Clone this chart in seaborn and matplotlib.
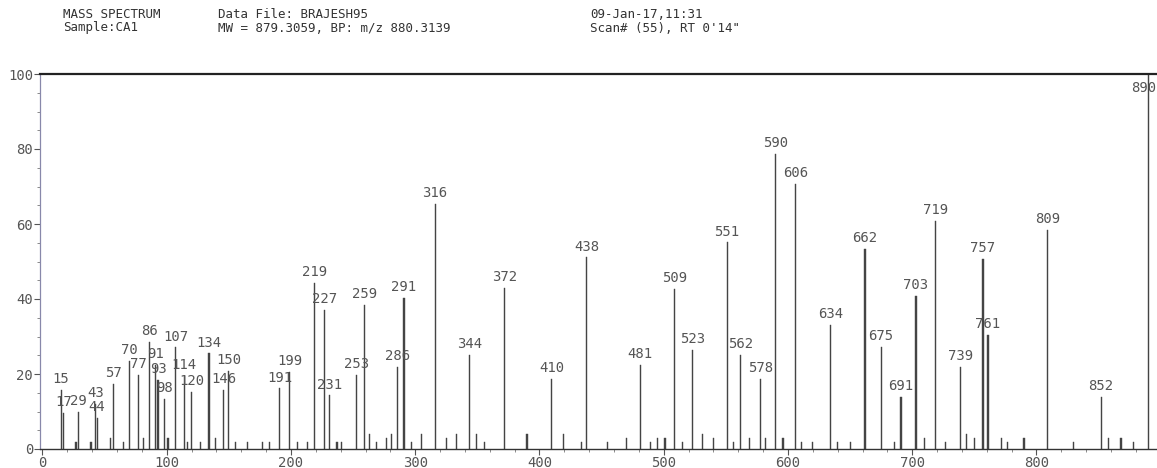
import matplotlib
matplotlib.use("Agg")
import matplotlib.pyplot as plt
import seaborn as sns
import pandas as pd
from matplotlib.ticker import MultipleLocator

# ---- data ----
labeled_mz = [15, 17, 29, 43, 44, 57, 70, 77, 86, 91, 93, 98, 107, 114, 120, 134,
              146, 150, 191, 199, 219, 227, 231, 253, 259, 286, 291, 316, 344, 372,
              410, 438, 481, 509, 523, 551, 562, 578, 590, 606, 634, 662, 675, 691,
              703, 719, 739, 757, 761, 809, 852, 890]
labeled_int = [15.7, 9.6, 10.0, 12.0, 8.4, 17.3, 23.6, 19.7, 28.5, 22.4, 18.5, 13.4,
               27.1, 19.5, 15.2, 25.5, 15.7, 20.8, 16.2, 20.6, 44.4, 37.2, 14.3, 19.7,
               38.5, 22.0, 40.3, 65.4, 25.1, 43.0, 18.8, 51.1, 22.4, 42.6, 26.4, 55.1,
               25.1, 18.8, 78.8, 70.8, 33.1, 53.3, 27.3, 13.9, 40.8, 60.9, 22.0, 50.6,
               30.5, 58.4, 13.9, 100.0]
minor_mz = [27, 39, 55, 65, 81, 101, 117, 127, 139, 155, 165, 177, 183, 205, 213, 237,
            241, 263, 269, 277, 281, 297, 305, 325, 333, 349, 356, 390, 419, 434, 455,
            470, 489, 495, 501, 515, 531, 540, 556, 569, 582, 596, 611, 620, 640, 650,
            686, 710, 727, 744, 750, 772, 777, 790, 830, 858, 868, 878]
minor_int = [2, 2, 3, 2, 3, 3, 2, 2, 3, 2, 2, 2, 2, 2, 2, 2,
             2, 4, 2, 3, 4, 2, 4, 3, 4, 4, 2, 4, 4, 2, 2,
             3, 2, 3, 3, 2, 4, 3, 2, 3, 3, 3, 2, 2, 2, 2,
             2, 3, 2, 4, 3, 3, 2, 3, 2, 3, 3, 2]
x_ticks = [0, 100, 200, 300, 400, 500, 600, 700, 800]
y_ticks = [0, 20, 40, 60, 80, 100]

header_left = ["MASS SPECTRUM", "Sample:CA1"]
header_mid = ["Data File: BRAJESH95", "MW = 879.3059, BP: m/z 880.3139"]
header_right = ["09-Jan-17,11:31", "Scan# (55), RT 0'14\""]

# ---- figure ----
sns.set_theme(style="white")
plt.rcParams["font.family"] = ["DejaVu Sans Mono", "DejaVu Sans"]

fig = plt.figure(figsize=(11.57, 4.68), dpi=100)
W, H = 1157, 468
ax = fig.add_axes([40 / W, 1 - 449 / H, (W - 40) / W, (449 - 74) / H])

df = pd.DataFrame({"mz": labeled_mz + minor_mz, "intensity": labeled_int + minor_int})
sns.barplot(data=df, x="mz", y="intensity", native_scale=True, width=0.9,
            color="#444444", saturation=1, linewidth=0.3, edgecolor="#444444", ax=ax)

ax.set_xlim(-2, 897)
ax.set_ylim(0, 100)

txtc = "#555555"
for m, h in zip(labeled_mz, labeled_int):
    if m == max(labeled_mz):
        ax.text(m - 4, h - 2.0, str(m), ha="center", va="top", fontsize=10,
                color=txtc, clip_on=False)
    else:
        ax.text(m, h + 1.0, str(m), ha="center", va="bottom", fontsize=10,
                color=txtc, clip_on=False)

ax.set_xticks(x_ticks)
ax.set_xticklabels([str(t) for t in x_ticks])
ax.set_yticks(y_ticks)
ax.set_yticklabels([str(t) for t in y_ticks])
ax.yaxis.set_minor_locator(MultipleLocator(5))
ax.xaxis.set_minor_locator(MultipleLocator(20))
ax.tick_params(axis="both", which="major", labelsize=10, labelcolor=txtc,
               color="#555555", length=4, width=0.8, direction="out", pad=1)
ax.tick_params(axis="both", which="minor", color="#777777", length=2, width=0.6,
               direction="out")
ax.tick_params(axis="x", which="both", bottom=True)
ax.tick_params(axis="y", which="both", left=True)
ax.set_xlabel("")
ax.set_ylabel("")

ax.spines["right"].set_visible(False)
ax.spines["top"].set_color("#222222")
ax.spines["top"].set_linewidth(1.6)
ax.spines["left"].set_color("#8888aa")
ax.spines["left"].set_linewidth(0.9)
ax.spines["bottom"].set_color("#333333")
ax.spines["bottom"].set_linewidth(1.0)

hc = "#333333"
for i, t in enumerate(header_left):
    fig.text(63 / W, 1 - (14 + 14 * i) / H, t, fontsize=9, color=hc, va="center")
for i, t in enumerate(header_mid):
    fig.text(218 / W, 1 - (14 + 14 * i) / H, t, fontsize=9, color=hc, va="center")
for i, t in enumerate(header_right):
    fig.text(590 / W, 1 - (14 + 14 * i) / H, t, fontsize=9, color=hc, va="center")

fig.savefig("out.png", dpi=100, facecolor="white")
